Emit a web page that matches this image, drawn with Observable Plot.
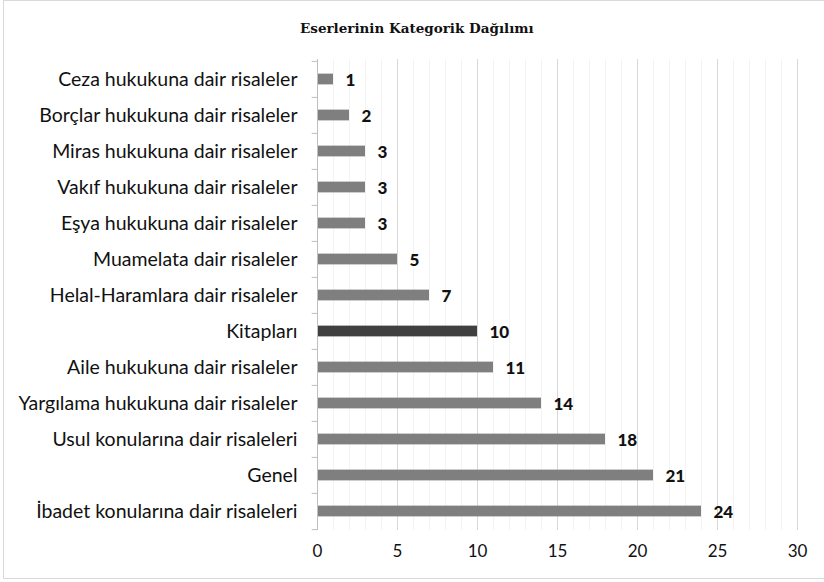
<!DOCTYPE html>
<html><head><meta charset="utf-8">
<script src="https://cdn.jsdelivr.net/npm/d3@7"></script>
<script src="https://cdn.jsdelivr.net/npm/@observablehq/plot@0.6"></script>
<style>
html,body{margin:0;padding:0;background:#fff;}
#wrap{position:absolute;left:3px;top:0;width:830px;height:579px;border:1px solid #d9d9d9;box-sizing:border-box;}
#title{height:50px;line-height:54px;padding-left:296px;font-family:"DejaVu Serif",serif;font-weight:bold;font-size:13.5px;color:#111;}
#chart{position:absolute;left:0;top:50px;}
</style></head><body>
<div id="wrap"><div id="title">Eserlerinin Kategorik Dağılımı</div><div id="chart"></div></div>
<script>
const categories = [
  "Ceza hukukuna dair risaleler",
  "Borçlar hukukuna dair risaleler",
  "Miras hukukuna dair risaleler",
  "Vakıf hukukuna dair risaleler",
  "Eşya hukukuna dair risaleler",
  "Muamelata dair risaleler",
  "Helal-Haramlara dair risaleler",
  "Kitapları",
  "Aile hukukuna dair risaleler",
  "Yargılama hukukuna dair risaleler",
  "Usul konularına dair risaleleri",
  "Genel",
  "İbadet konularına dair risaleleri"
];
const counts = [1, 2, 3, 3, 3, 5, 7, 10, 11, 14, 18, 21, 24];
const highlighted = "Kitapları";
const xTicks = [0, 5, 10, 15, 20, 25, 30];
const minorTicks = d3.range(0, 31, 1).filter(v => v % 5 !== 0);

const data = categories.map((c, i) => ({category: c, value: counts[i]}));
const H = 527, mT = 8, mB = 48;
const band = (H - mT - mB) / categories.length;
const inset = (band - 11) / 2;

const chart = Plot.plot({
  width: 816,
  height: H,
  marginLeft: 313,
  marginRight: 23,
  marginTop: mT,
  marginBottom: mB,
  style: {fontFamily: "Lato, sans-serif", fontSize: "16px", color: "#111", background: "#fff"},
  x: {domain: [0, 30], ticks: xTicks, tickSize: 0, label: null},
  y: {domain: categories, padding: 0, tickSize: 0, label: null},
  marks: [
    Plot.ruleX(minorTicks, {stroke: "#f3f3f3", strokeWidth: 1}),
    Plot.ruleX(xTicks.filter(v => v > 0), {stroke: "#d9d9d9", strokeWidth: 1}),
    Plot.barX(data, {y: "category", x: "value", insetTop: inset, insetBottom: inset, fill: d => d.category === highlighted ? "#404040" : "#7f7f7f"}),
    Plot.ruleX([0], {stroke: "#bfbfbf"}),
    Plot.ruleY(categories, {y: d => d, x1: -0.33, x2: 0, dy: -band / 2, stroke: "#bfbfbf"}),
    Plot.ruleY([categories[categories.length - 1]], {y: d => d, x1: -0.33, x2: 0, dy: band / 2, stroke: "#bfbfbf"}),
    Plot.text(data, {y: "category", x: "value", text: d => String(d.value), textAnchor: "start", dx: 12, dy: 1, fontWeight: "900", fontSize: 17, fill: "#111"}),
    Plot.axisX({ticks: xTicks, tickSize: 0, tickPadding: 14, fontSize: 17}),
    Plot.axisY({tickSize: 0, tickPadding: 20, fontSize: 19.5})
  ]
});
document.getElementById("chart").appendChild(chart);
</script></body></html>
